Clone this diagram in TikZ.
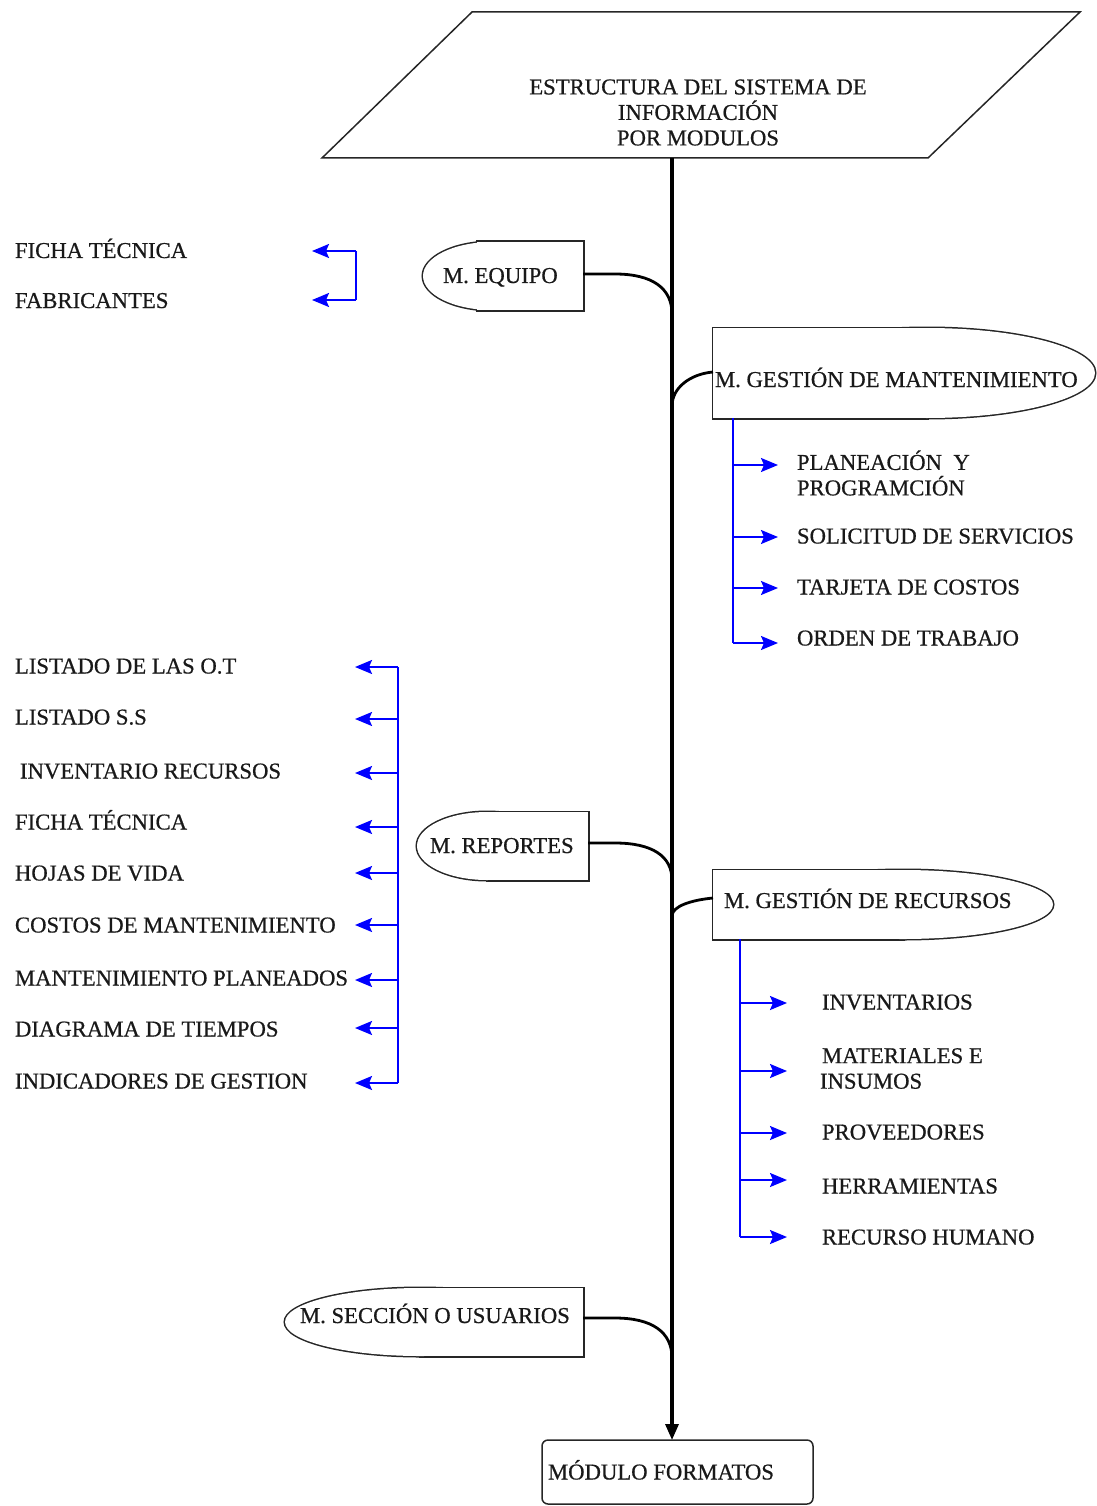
\documentclass[tikz,border=0pt]{standalone}
\usepackage{fontspec}
\setmainfont{Liberation Serif}[FakeBold=0.6]
\usetikzlibrary{arrows.meta}
\begin{document}
\begin{tikzpicture}[x=1pt,y=-1pt,
  every node/.style={inner sep=0pt, outer sep=0pt},
  txt/.style={font=\fontsize{22.7}{25.5}\selectfont, text=black!90},
  lbl/.style={txt, anchor=base west},
  lblml/.style={txt, anchor=west, align=left},
  outline/.style={draw=black!85, line width=3pt},
  blank/.style={fill=white},
  spine/.style={line width=3.2pt, black},
  branch/.style={line width=2.8pt, black},
  bluetree/.style={line width=2pt, draw={rgb,255:red,0;green,0;blue,255}},
  bluearrow/.style={bluetree, -{Stealth[length=17pt,width=14pt,inset=3pt]}},
]
\useasboundingbox (0,0) rectangle (1096,1506);

% Title parallelogram
\draw[black!85, line width=1.5pt] (472,12) -- (1080,12) -- (928,158) -- (322,158) -- cycle;
\node[txt, align=center] (title) at (698,112.5)
  {ESTRUCTURA DEL SISTEMA DE\\INFORMACIÓN\\POR MODULOS};
\coordinate (top) at (672,158);

% Bottom module
\node[draw=black!85, line width=1.5pt, rounded corners=6pt, minimum width=271pt,
  minimum height=64pt] (formatos) at (677.5,1472) {};
\node[lbl] (formatosT) at (548,1479.5) {MÓDULO FORMATOS};

% Main spine
\draw[spine, -{Triangle[length=16pt,width=13pt]}] (top) -- (top |- formatos.north);
\coordinate (jEq) at (672,314);
\coordinate (jMa) at (672,406);
\coordinate (jRe) at (672,880);
\coordinate (jRc) at (672,916);
\coordinate (jSe) at (672,1358);

% Module shapes: ellipse joined with a rectangle, outer outline only
% M. EQUIPO
\path[outline] (492,276) ellipse [x radius=69, y radius=34];
\node[outline, minimum width=106pt, minimum height=68pt] (equipo) at (530,276) {};
\path[blank] (492,276) ellipse [x radius=69, y radius=34];
\node[blank, minimum width=106pt, minimum height=68pt] at (530,276) {};
\node[lbl] (equipoT) at (443,283) {M. EQUIPO};

% M. GESTIÓN DE MANTENIMIENTO
\path[outline] (927,373) ellipse [x radius=168, y radius=45];
\node[outline, minimum width=214pt, minimum height=90pt] (mant) at (820,373) {};
\path[blank] (927,373) ellipse [x radius=168, y radius=45];
\node[blank, minimum width=214pt, minimum height=90pt] at (820,373) {};
\node[lbl] (mantT) at (715,387) {M. GESTIÓN DE MANTENIMIENTO};

% M. REPORTES
\path[outline] (487,846) ellipse [x radius=70, y radius=34];
\node[outline, minimum width=101pt, minimum height=68pt] (rep) at (537.5,846) {};
\path[blank] (487,846) ellipse [x radius=70, y radius=34];
\node[blank, minimum width=101pt, minimum height=68pt] at (537.5,846) {};
\node[lbl] (repT) at (430,853) {M. REPORTES};

% M. GESTIÓN DE RECURSOS
\path[outline] (903,904.5) ellipse [x radius=150, y radius=34.5];
\node[outline, minimum width=190pt, minimum height=69pt] (rec) at (808,904.5) {};
\path[blank] (903,904.5) ellipse [x radius=150, y radius=34.5];
\node[blank, minimum width=190pt, minimum height=69pt] at (808,904.5) {};
\node[lbl] (recT) at (724,908) {M. GESTIÓN DE RECURSOS};

% M. SECCIÓN O USUARIOS
\path[outline] (420,1322) ellipse [x radius=135, y radius=34];
\node[outline, minimum width=163pt, minimum height=68pt] (sec) at (501.5,1322) {};
\path[blank] (420,1322) ellipse [x radius=135, y radius=34];
\node[blank, minimum width=163pt, minimum height=68pt] at (501.5,1322) {};
\node[lbl] (secT) at (300,1323) {M. SECCIÓN O USUARIOS};

% Curved branches into the spine
\draw[branch] (equipo.east |- 0,274) -- ++(32,0) .. controls (652,274) and (672,288) .. (jEq);
\draw[branch] (mant.west |- 0,372) .. controls (690,374) and (672,388) .. (jMa);
\draw[branch] (rep.east |- 0,843) -- ++(27,0) .. controls (652,843) and (672,856) .. (jRe);
\draw[branch] (rec.west |- 0,898) .. controls (692,900) and (672,906) .. (jRc);
\draw[branch] (sec.east |- 0,1318) -- ++(32,0) .. controls (652,1318) and (672,1332) .. (jSe);

% Items of M. EQUIPO
\node[lbl] (e1) at (15,258) {FICHA TÉCNICA};
\node[lbl] (e2) at (15,308) {FABRICANTES};
\coordinate (eb1) at (356,251);
\coordinate (eb2) at (356,300);
\draw[bluetree] (eb1) -- (eb2);
\draw[bluearrow] (eb1) -- (312,251);
\draw[bluearrow] (eb2) -- (312,300);

% Items of M. GESTIÓN DE MANTENIMIENTO
\node[lblml] (m1) at (797,473) {PLANEACIÓN\ \ Y\\PROGRAMCIÓN};
\node[lbl] (m2) at (797,543.5) {SOLICITUD DE SERVICIOS};
\node[lbl] (m3) at (797,594.5) {TARJETA DE COSTOS};
\node[lbl] (m4) at (797,645.5) {ORDEN DE TRABAJO};
\draw[bluetree] (733,418) -- (733,643);
\foreach \yy in {465,537,588,643}
  \draw[bluearrow] (733,\yy) -- (778,\yy);

% Items of M. REPORTES
\node[lbl] (r1) at (15,673.5) {LISTADO DE LAS O.T};
\node[lbl] (r2) at (15,724.5) {LISTADO S.S};
\node[lbl] (r3) at (20,778.5) {INVENTARIO RECURSOS};
\node[lbl] (r4) at (15,829.5) {FICHA TÉCNICA};
\node[lbl] (r5) at (15,880.5) {HOJAS DE VIDA};
\node[lbl] (r6) at (15,932.5) {COSTOS DE MANTENIMIENTO};
\node[lbl] (r7) at (15,985.5) {MANTENIMIENTO PLANEADOS};
\node[lbl] (r8) at (15,1036.5) {DIAGRAMA DE TIEMPOS};
\node[lbl] (r9) at (15,1088.5) {INDICADORES DE GESTION};
\draw[bluetree] (398,667) -- (398,1083);
\foreach \yy in {667,719,773,827,873,925,980,1028,1083}
  \draw[bluearrow] (398,\yy) -- (355,\yy);

% Items of M. GESTIÓN DE RECURSOS
\node[lbl] (c1) at (822,1009.5) {INVENTARIOS};
\node[lblml] (c2) at (820,1068.5) {\hspace*{2pt}MATERIALES E\\INSUMOS};
\node[lbl] (c3) at (822,1139.5) {PROVEEDORES};
\node[lbl] (c4) at (822,1193.5) {HERRAMIENTAS};
\node[lbl] (c5) at (822,1244.5) {RECURSO HUMANO};
\draw[bluetree] (740,939) -- (740,1237);
\foreach \yy in {1003,1071,1133,1180,1237}
  \draw[bluearrow] (740,\yy) -- (787,\yy);
\end{tikzpicture}
\end{document}
